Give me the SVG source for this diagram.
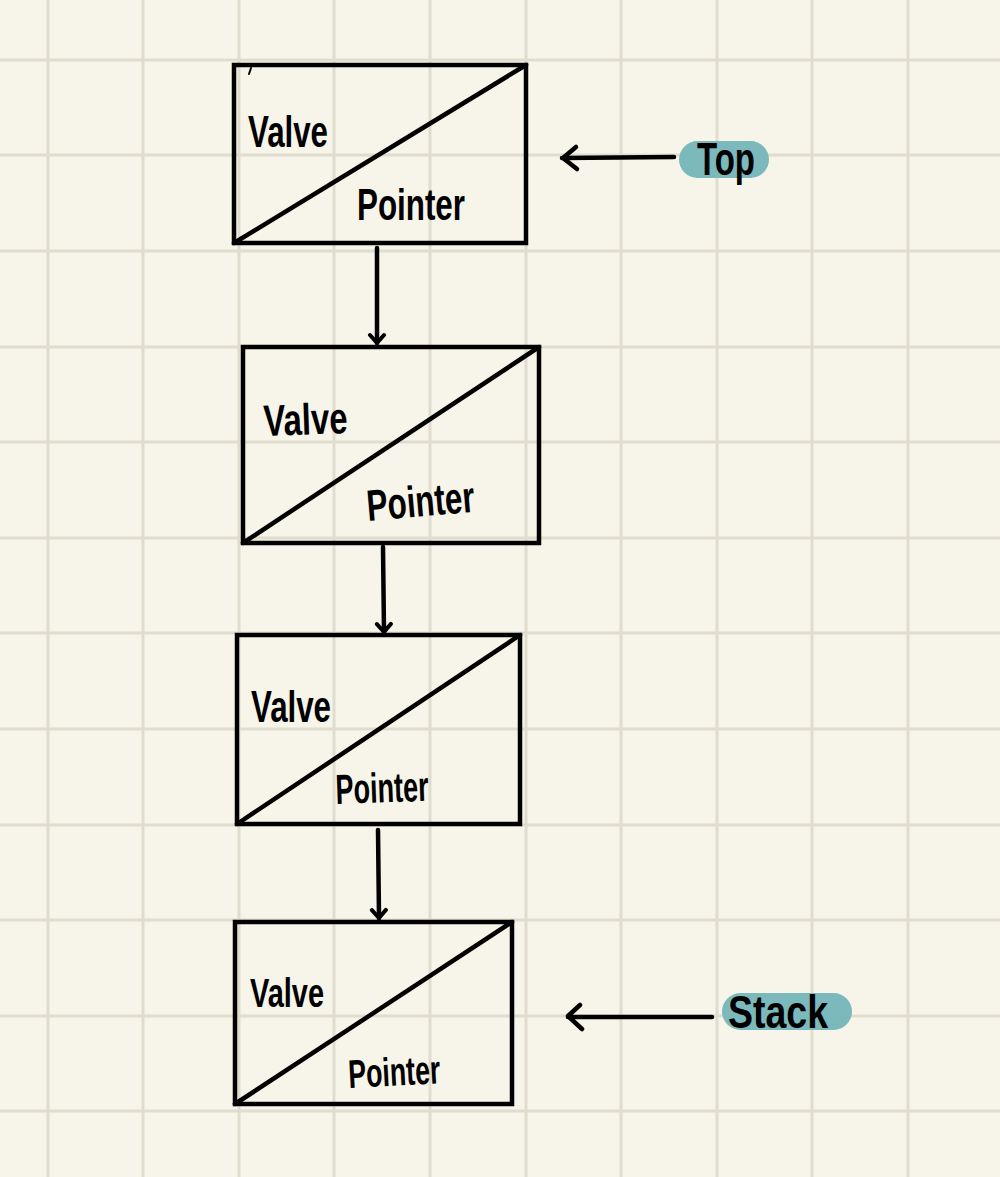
<svg xmlns="http://www.w3.org/2000/svg" width="1000" height="1177" viewBox="0 0 1000 1177">
<style>
.grid line{stroke:#e0ddcf;stroke-width:3}
.box{fill:none;stroke:#000;stroke-width:4.5;stroke-linejoin:miter}
.diag{stroke:#000;stroke-width:4.5;stroke-linecap:round}
.conn{fill:none;stroke:#000;stroke-width:4.5;stroke-linecap:round;stroke-linejoin:round}
.t{font-family:"Liberation Sans Narrow","Liberation Sans",Arial,sans-serif;fill:#000;font-weight:bold}
.pill{fill:#7bb9bd}
</style>
<defs>
<marker id="ad" viewBox="0 0 20 20" refX="18" refY="10" markerWidth="20" markerHeight="20" markerUnits="userSpaceOnUse" orient="auto">
<path d="M10,3 L18,10 L10,17" fill="none" stroke="#000" stroke-width="4" stroke-linecap="round" stroke-linejoin="round"/>
</marker>
</defs>
<rect width="1000" height="1177" fill="#f7f5e9"/>
<g class="grid">
<line x1="48" y1="0" x2="48" y2="1177"/>
<line x1="143" y1="0" x2="143" y2="1177"/>
<line x1="239" y1="0" x2="239" y2="1177"/>
<line x1="334" y1="0" x2="334" y2="1177"/>
<line x1="430" y1="0" x2="430" y2="1177"/>
<line x1="526" y1="0" x2="526" y2="1177"/>
<line x1="621" y1="0" x2="621" y2="1177"/>
<line x1="717" y1="0" x2="717" y2="1177"/>
<line x1="812" y1="0" x2="812" y2="1177"/>
<line x1="908" y1="0" x2="908" y2="1177"/>
<line x1="0" y1="60" x2="1000" y2="60"/>
<line x1="0" y1="155" x2="1000" y2="155"/>
<line x1="0" y1="251" x2="1000" y2="251"/>
<line x1="0" y1="347" x2="1000" y2="347"/>
<line x1="0" y1="442" x2="1000" y2="442"/>
<line x1="0" y1="538" x2="1000" y2="538"/>
<line x1="0" y1="633" x2="1000" y2="633"/>
<line x1="0" y1="729" x2="1000" y2="729"/>
<line x1="0" y1="825" x2="1000" y2="825"/>
<line x1="0" y1="920" x2="1000" y2="920"/>
<line x1="0" y1="1016" x2="1000" y2="1016"/>
<line x1="0" y1="1111" x2="1000" y2="1111"/>
</g>
<g id="node1">
<rect class="box" x="234" y="65" width="292" height="178"/>
<line class="diag" x1="234" y1="243" x2="526" y2="65"/>
<line x1="251" y1="68" x2="249" y2="74" stroke="#000" stroke-width="2" stroke-linecap="round"/>
<text class="t" x="248" y="147" font-size="44" textLength="80" lengthAdjust="spacingAndGlyphs">Valve</text>
<text class="t" x="357" y="220" font-size="44" textLength="108" lengthAdjust="spacingAndGlyphs">Pointer</text>
</g>
<g id="node2">
<rect class="box" x="243" y="347" width="296" height="196"/>
<line class="diag" x1="243" y1="543" x2="539" y2="347"/>
<text class="t" x="264" y="436" font-size="44" textLength="84" lengthAdjust="spacingAndGlyphs" transform="rotate(-2 264 436)">Valve</text>
<text class="t" x="368" y="521" font-size="44" textLength="108" lengthAdjust="spacingAndGlyphs" transform="rotate(-5 368 521)">Pointer</text>
</g>
<g id="node3">
<rect class="box" x="237" y="635" width="283" height="189"/>
<line class="diag" x1="237" y1="824" x2="520" y2="635"/>
<text class="t" x="251" y="722" font-size="44" textLength="80" lengthAdjust="spacingAndGlyphs">Valve</text>
<text class="t" x="336" y="804" font-size="42" textLength="93" lengthAdjust="spacingAndGlyphs" transform="rotate(-2 336 804)">Pointer</text>
</g>
<g id="node4">
<rect class="box" x="235" y="922" width="277" height="182"/>
<line class="diag" x1="235" y1="1104" x2="512" y2="922"/>
<text class="t" x="250" y="1007" font-size="40" textLength="74" lengthAdjust="spacingAndGlyphs">Valve</text>
<text class="t" x="349" y="1088" font-size="40" textLength="92" lengthAdjust="spacingAndGlyphs" transform="rotate(-3 349 1088)">Pointer</text>
</g>
<g id="top-label">
<rect class="pill" x="679" y="141" width="90" height="37" rx="18.5"/>
<text class="t" x="697" y="175" font-size="46" textLength="58" lengthAdjust="spacingAndGlyphs">Top</text>
</g>
<g id="stack-label">
<rect class="pill" x="722" y="993" width="130" height="37" rx="18.5"/>
<text class="t" x="728" y="1028" font-size="46" textLength="100" lengthAdjust="spacingAndGlyphs">Stack</text>
</g>
<g id="connectors">
<path class="conn" d="M377,248 L377,343" marker-end="url(#ad)"/>
<path class="conn" d="M383,547 L384,632" marker-end="url(#ad)"/>
<path class="conn" d="M378,830 L379,918" marker-end="url(#ad)"/>
<path class="conn" d="M674,157 L562,158"/>
<path class="conn" d="M576,147 L563,158 L577,169"/>
<path class="conn" d="M712,1017 L568,1017"/>
<path class="conn" d="M580,1005 L568,1016 L582,1029"/>
</g>
</svg>
